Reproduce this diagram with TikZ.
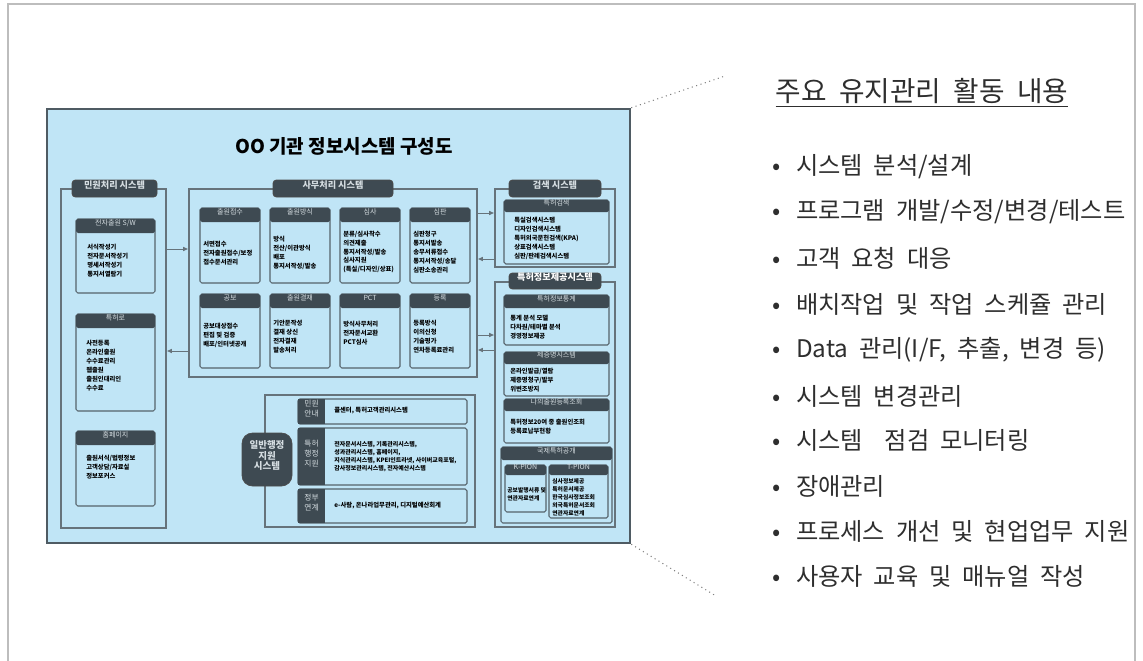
\documentclass[tikz,border=0pt]{standalone}
\usepackage{fontspec}
\setmainfont{Noto Sans CJK KR}
\newfontfamily\listfont{Noto Sans CJK KR}[WordSpace=2.0]
\usepackage{tikz}
\usetikzlibrary{arrows.meta, positioning, fit}
\definecolor{panelblue}{HTML}{C0E5F6}
\definecolor{framegray}{HTML}{4F5B63}
\definecolor{boxgray}{HTML}{56636B}
\definecolor{groupgray}{HTML}{66737B}
\definecolor{headdark}{HTML}{3E4A52}
\definecolor{headtext}{HTML}{D5DDE1}
\definecolor{listgray}{HTML}{2E2E2E}
\definecolor{bordergray}{HTML}{BDBDBD}

\begin{document}
\begin{tikzpicture}[
    x=0.02cm, y=-0.02cm,
    box/.style={draw=boxgray, fill=panelblue, line width=0.6pt, rounded corners=1pt, inner sep=0pt},
    group/.style={draw=groupgray, line width=0.6pt, inner sep=0pt},
    head/.style={fill=headdark, text=headtext, rounded corners=1pt, inner sep=0pt, font=\fontsize{4}{5}\selectfont},
    rowhead/.style={fill=headdark, text=headtext, inner sep=0pt, align=center, font=\fontsize{4.4}{5.6}\selectfont},
    tab/.style={fill=headdark, draw=black!70, line width=0.5pt, text=headtext, rounded corners=2pt, inner sep=0pt, font=\fontsize{5.2}{6}\selectfont\bfseries},
    item/.style={anchor=west, align=left, inner sep=0pt, font=\fontsize{3.6}{5.1}\selectfont\bfseries},
    arrow/.style={-{Latex[length=3pt, width=2.6pt]}, draw=groupgray, line width=0.5pt},
    entry/.style={anchor=west, inner sep=0pt, text=listgray, font=\listfont\fontsize{13.8}{16}\selectfont},
]
    \useasboundingbox (0,0) rectangle (1143,660);
    \draw[bordergray, line width=1.2pt] (8,662) -- (8,4) -- (1135,4) -- (1135,662);

    % Panel
    \node[fit={(47,109)(630,543)}, fill=panelblue, draw=framegray, line width=1.4pt, inner sep=0pt] (panel) {};
    \node[font=\fontsize{10.8}{12}\selectfont\bfseries] (title) at (344,146) {OO 기관 정보시스템 구성도};

    % Civil petition system
    \node[group, fit={(61,189)(166,528)}] (civil) {};
    \node[tab, fit={(72,180)(157,197)}] (civiltab) {민원처리 시스템};
    \node[box, fit={(76,219)(155,293)}] (esw) {};
    \node[head, fit={(76,219)(155,233)}] (eswh) {전자출원 S/W};
    \node[item] (eswt) at (87,261) {서식작성기\\전자문서작성기\\명세서작성기\\통지서열람기};
    \node[box, fit={(76,314)(155,411)}] (plo) {};
    \node[head, fit={(76,314)(155,328)}] (ploh) {특허로};
    \node[item] (plot) at (86,366) {사전등록\\온라인출원\\수수료관리\\웹출원\\출원인대리인\\수수료};
    \node[box, fit={(76,431)(155,506)}] (home) {};
    \node[head, fit={(76,431)(155,445)}] (homeh) {홈페이지};
    \node[item] (homet) at (86,467) {출원서식/법령정보\\고객상담/자료실\\정보포커스};

    % Office system
    \node[group, fit={(189,189)(477,377)}] (office) {};
    \node[tab, fit={(273,180)(393,197)}] (officetab) {사무처리 시스템};
    \node[box, fit={(200,208)(260,283)}] (recv) {};
    \node[head, fit={(200,208)(260,222)}] (recvh) {출원접수};
    \node[item] (recvt) at (203,253) {서면접수\\전자출원접수/보정\\접수문서관리};
    \node[box, fit={(270,208)(330,283)}] (form) {};
    \node[head, fit={(270,208)(330,222)}] (formh) {출원방식};
    \node[item] (formt) at (273,253) {방식\\전산/이관방식\\배포\\통지서작성/발송};
    \node[box, fit={(340,208)(400,283)}] (exam) {};
    \node[head, fit={(340,208)(400,222)}] (examh) {심사};
    \node[item] (examt) at (343,252) {분류/심사착수\\의견제출\\통지서작성/발송\\심사지원\\(특실/디자인/상표)};
    \node[box, fit={(410,208)(470,283)}] (trial) {};
    \node[head, fit={(410,208)(470,222)}] (trialh) {심판};
    \node[item] (trialt) at (413,252) {심판청구\\통지서발송\\송무서류접수\\통지서작성/송달\\심판소송관리};
    \node[box, fit={(200,294)(260,368)}] (gaz) {};
    \node[head, fit={(200,294)(260,308)}] (gazh) {공보};
    \node[item] (gazt) at (203,335) {공보대상접수\\편집 및 검증\\배포/인터넷공개};
    \node[box, fit={(270,294)(330,368)}] (appr) {};
    \node[head, fit={(270,294)(330,308)}] (apprh) {출원결재};
    \node[item] (apprt) at (273,337) {기안문작성\\결재 상신\\전자결재\\발송처리};
    \node[box, fit={(340,294)(400,368)}] (pct) {};
    \node[head, fit={(340,294)(400,308)}] (pcth) {PCT};
    \node[item] (pctt) at (343,333) {방식사무처리\\전자문서교환\\PCT심사};
    \node[box, fit={(410,294)(470,368)}] (reg) {};
    \node[head, fit={(410,294)(470,308)}] (regh) {등록};
    \node[item] (regt) at (413,337) {등록방식\\이의신청\\기술평가\\연차등록료관리};

    % Search system
    \node[group, fit={(495,189)(615,267)}] (search) {};
    \node[tab, fit={(509,180)(601,197)}] (searchtab) {검색 시스템};
    \node[box, fit={(504,200)(609,264)}] (psearch) {};
    \node[head, fit={(504,200)(609,212)}] (psearchh) {특허검색};
    \node[item] (psearcht) at (514,238) {특실검색시스템\\디자인검색시스템\\특허외국문헌검색(KPA)\\상표검색시스템\\심판/판례검색시스템};

    % Information service system
    \node[group, fit={(495,282)(615,527)}] (info) {};
    \node[tab, fit={(509,273)(601,289)}, text=white] (infotab) {특허정보제공시스템};
    \node[box, fit={(504,295)(609,345)}] (stat) {};
    \node[head, fit={(504,295)(609,308)}] (stath) {특허정보통계};
    \node[item] (statt) at (510,327) {통계 분석 모델\\다차원/테마별 분석\\경영정보제공};
    \node[box, fit={(504,352)(609,396)}] (cert) {};
    \node[head, fit={(504,352)(609,364)}] (certh) {제증명시스템};
    \node[item] (certt) at (510,380) {온라인발급/열람\\제증명청구/발부\\위변조방지};
    \node[box, fit={(504,399)(609,443)}] (mine) {};
    \node[head, fit={(504,399)(609,411)}] (mineh) {나의출원등록조회};
    \node[item] (minet) at (510,427) {특허정보20여 종 출원인조회\\등록료납부현황};
    \node[box, fit={(501,447)(612,523)}] (intl) {};
    \node[head, fit={(501,447)(612,460)}] (intlh) {국제특허공개};
    \node[box, fit={(505,465)(546,512)}] (kpion) {};
    \node[head, fit={(505,465)(546,475)}] (kpionh) {K-PION};
    \node[item, font=\fontsize{3.3}{4.6}\selectfont\bfseries] (kpiont) at (507,494) {공보발행서류 및\\연관자료연계};
    \node[box, fit={(549,465)(608,518)}] (tpion) {};
    \node[head, fit={(549,465)(608,475)}] (tpionh) {T-PION};
    \node[item, font=\fontsize{3.3}{4.6}\selectfont\bfseries] (tpiont) at (552,497) {심사정보제공\\특허문서제공\\한국심사정보조회\\외국특허문서조회\\연관자료연계};

    % General administration support
    \node[group, fit={(265,395)(475,527)}] (admin) {};
    \node[fit={(242,433)(292,486)}, fill=headdark, draw=black!70, rounded corners=6pt, inner sep=0pt, text=headtext, align=center, font=\fontsize{5.4}{6.2}\selectfont\bfseries] (adminlbl) {일반행정\\지원\\시스템};
    \node[box, fit={(298,399)(467,424)}] (guide) {};
    \node[rowhead, fit={(298,399)(325,424)}] (guideh) {민원\\안내};
    \node[item] (guidet) at (334,411) {콜센터, 특허고객관리시스템};
    \node[box, fit={(298,428)(467,485)}] (supp) {};
    \node[rowhead, fit={(298,428)(325,485)}] (supph) {특허\\행정\\지원};
    \node[item, font=\fontsize{3.4}{4.6}\selectfont\bfseries] (suppt) at (334,457) {전자문서시스템, 기록관리시스템,\\성과관리시스템, 홈페이지,\\지식관리시스템, KPEI인트라넷, 사이버교육포털,\\감사정보관리시스템, 전자예산시스템};
    \node[box, fit={(298,489)(467,523)}] (gov) {};
    \node[rowhead, fit={(298,489)(325,523)}] (govh) {정부\\연계};
    \node[item] (govt) at (334,506) {e-사람, 온나라업무관리, 디지털예산회계};

    % Arrows
    \draw[arrow] (civil.east |- 0,249) -- (office.west |- 0,249);
    \draw[arrow] (office.west |- 0,351) -- (civil.east |- 0,351);
    \draw[arrow] (office.east |- 0,213) -- (search.west |- 0,213);
    \draw[arrow] (search.west |- 0,259) -- (office.east |- 0,259);
    \draw[arrow] (office.east |- 0,335) -- (info.west |- 0,335);
    \draw[arrow] (info.west |- 0,350) -- (office.east |- 0,350);

    % Zoom lines
    \coordinate (zt) at (725,76);
    \coordinate (zb) at (716,596);
    \draw[gray, dotted, line width=0.6pt] (panel.north east) -- (zt);
    \draw[gray, dotted, line width=0.6pt] (panel.south east) -- (zb);

    % Maintenance list
    \node[text=listgray, font=\listfont\fontsize{15.8}{18}\selectfont] (maint) at (922,93) {\underline{주요 유지관리 활동 내용}};
    \node[entry] (m1) at (772,167) {\makebox[13.5pt][l]{•}시스템 분석/설계};
    \node[entry] (m2) at (772,212) {\makebox[13.5pt][l]{•}프로그램 개발/수정/변경/테스트};
    \node[entry] (m3) at (772,258) {\makebox[13.5pt][l]{•}고객 요청 대응};
    \node[entry] (m4) at (772,304) {\makebox[13.5pt][l]{•}배치작업 및 작업 스케쥴 관리};
    \node[entry] (m5) at (772,350) {\makebox[13.5pt][l]{•}Data 관리(I/F, 추출, 변경 등)};
    \node[entry] (m6) at (772,396) {\makebox[13.5pt][l]{•}시스템 변경관리};
    \node[entry] (m7) at (772,440) {\makebox[13.5pt][l]{•}시스템~ 점검 모니터링};
    \node[entry] (m8) at (772,486) {\makebox[13.5pt][l]{•}장애관리};
    \node[entry] (m9) at (772,531) {\makebox[13.5pt][l]{•}프로세스 개선 및 현업업무 지원};
    \node[entry] (m10) at (772,576) {\makebox[13.5pt][l]{•}사용자 교육 및 매뉴얼 작성};
\end{tikzpicture}
\end{document}
